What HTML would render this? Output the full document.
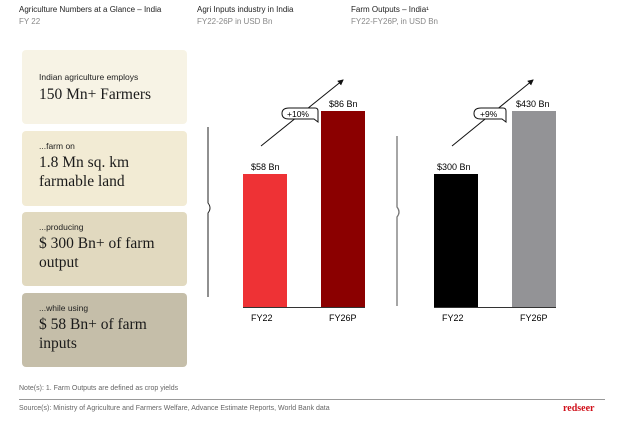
<!DOCTYPE html><html><head><style>
body{margin:0;width:623px;height:424px;background:#fff;position:relative;font-family:"Liberation Sans",sans-serif;overflow:hidden}
.a{position:absolute;white-space:nowrap}
.t{font-size:8px;color:#222}.s{font-size:8px;color:#888}
.box{position:absolute;left:22px;width:165px;border-radius:4px}
.box .l{position:absolute;left:17px;font-size:8.5px;color:#222}
.box .b{position:absolute;left:17px;font-family:"Liberation Serif",serif;font-size:15.5px;line-height:19px;color:#1a1a1a}
</style></head><body>
<div class="a t" style="left:19px;top:5px">Agriculture Numbers at a Glance – India</div>
<div class="a s" style="left:19px;top:17px">FY 22</div>
<div class="a t" style="left:197px;top:5px">Agri Inputs industry in India</div>
<div class="a s" style="left:197px;top:17px">FY22-26P in USD Bn</div>
<div class="a t" style="left:351px;top:5px">Farm Outputs – India¹</div>
<div class="a s" style="left:351px;top:17px">FY22-FY26P, in USD Bn</div>

<div class="box" style="top:50px;height:74px;background:#f7f3e5">
<div class="l" style="top:22px">Indian agriculture employs</div>
<div class="b" style="top:35px">150 Mn+ Farmers</div></div>
<div class="box" style="top:131px;height:75px;background:#f2ebd4">
<div class="l" style="top:10px">...farm on</div>
<div class="b" style="top:22px">1.8 Mn sq. km<br>farmable land</div></div>
<div class="box" style="top:212px;height:74px;background:#e1d9bf">
<div class="l" style="top:10px">...producing</div>
<div class="b" style="top:22px">$ 300 Bn+ of farm<br>output</div></div>
<div class="box" style="top:293px;height:74px;background:#c5bea9">
<div class="l" style="top:10px">...while using</div>
<div class="b" style="top:22px">$ 58 Bn+ of farm<br>inputs</div></div>

<svg class="a" style="left:0;top:0" width="623" height="424">
<defs><marker id="ar" markerWidth="6" markerHeight="6" refX="5" refY="3" orient="auto"><path d="M0,0L6,3L0,6z" fill="#111"/></marker></defs>
<path d="M208,127V203q4,5 0,10V297" stroke="#222" fill="none"/>
<path d="M397,136V207q4,5 0,10V306" stroke="#777" fill="none" stroke-width="1.3"/>
<rect x="243" y="174" width="44" height="133" fill="#ee3235"/>
<rect x="321" y="111" width="44" height="196" fill="#8b0000"/>
<line x1="243" y1="307.5" x2="365" y2="307.5" stroke="#333"/>
<rect x="434" y="174" width="44" height="133" fill="#000"/>
<rect x="512" y="111" width="44" height="196" fill="#939396"/>
<line x1="434" y1="307.5" x2="556" y2="307.5" stroke="#333"/>
<line x1="261" y1="146" x2="343" y2="80" stroke="#111" marker-end="url(#ar)"/>
<line x1="452" y1="146" x2="533" y2="80" stroke="#111" marker-end="url(#ar)"/>
<path d="M289,108h26q3,0 3,3v11l-4,-3h-25q-7,0 -7,-5.5q0,-5.5 7,-5.5z" fill="#fff" stroke="#111"/>
<path d="M481,108h22q3,0 3,3v11l-4,-3h-21q-7,0 -7,-5.5q0,-5.5 7,-5.5z" fill="#fff" stroke="#111"/>
<text x="287" y="117" font-size="8.5" font-family="Liberation Sans">+10%</text>
<text x="480" y="117" font-size="8.5" font-family="Liberation Sans">+9%</text>
<text x="251" y="170" font-size="9" font-family="Liberation Sans">$58 Bn</text>
<text x="329" y="107" font-size="9" font-family="Liberation Sans">$86 Bn</text>
<text x="437" y="170" font-size="9" font-family="Liberation Sans">$300 Bn</text>
<text x="516" y="107" font-size="9" font-family="Liberation Sans">$430 Bn</text>
<text x="251" y="321" font-size="9" font-family="Liberation Sans">FY22</text>
<text x="329" y="321" font-size="9" font-family="Liberation Sans">FY26P</text>
<text x="442" y="321" font-size="9" font-family="Liberation Sans">FY22</text>
<text x="520" y="321" font-size="9" font-family="Liberation Sans">FY26P</text>
<line x1="19" y1="399.5" x2="605" y2="399.5" stroke="#999"/>
</svg>
<div class="a" style="left:19px;top:385px;font-size:7px;color:#666">Note(s): 1. Farm Outputs are defined as crop yields</div>
<div class="a" style="left:19px;top:405px;font-size:7px;color:#666">Source(s): Ministry of Agriculture and Farmers Welfare, Advance Estimate Reports, World Bank data</div>
<div class="a" style="left:563px;top:403px;font-size:10px;font-weight:bold;color:#d0101a;font-family:'Liberation Serif',serif">redseer</div>
</body></html>
